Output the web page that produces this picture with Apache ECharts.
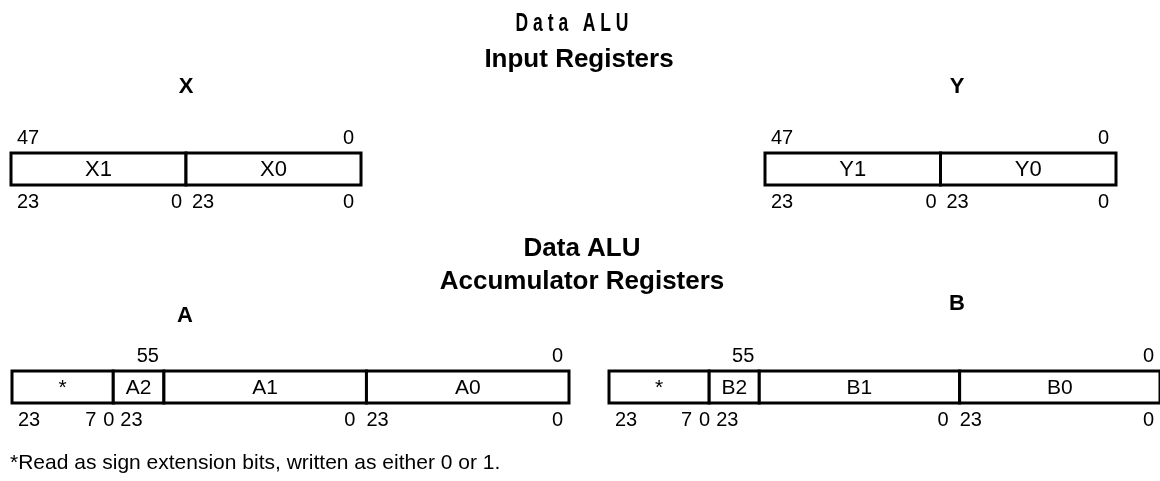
<!DOCTYPE html>
<html>
<head>
<meta charset="utf-8">
<script src="https://cdn.jsdelivr.net/npm/echarts@6/dist/echarts.min.js"></script>
<style>
html,body{margin:0;padding:0;background:#fff;}
#chart{width:1160px;height:481px;}
</style>
</head>
<body>
<div id="chart"></div>
<script>
// ---- data ----
const inputRegisters = ['X', 'Y'];
const inputFields = [['X1', 'X0'], ['Y1', 'Y0']];
const inputFieldSpan = [1, 1];
const inputTopBits = ['47', '0'];
const inputBottomBits = ['23', '0', '23', '0'];

const accRegisters = ['A', 'B'];
const accFields = [['*', 'A2', 'A1', 'A0'], ['*', 'B2', 'B1', 'B0']];
const accFieldSpan = [2, 1, 4, 4];
const accTopBits = ['55', '0'];
const accBottomBits = ['23', '7', '0', '23', '0', '23', '0'];

const headingTop = 'D a t a   A L U';
const headingInput = 'Input Registers';
const headingAcc1 = 'Data ALU';
const headingAcc2 = 'Accumulator Registers';
const footnote = '*Read as sign extension bits, written as either 0 or 1.';

// ---- layout (anchors: [axis slot, align, pixel dx]) ----
const inputTopAnchor = [[0, 'left', 6], [2, 'right', -7]];
const inputBottomAnchor = [[0, 'left', 6], [1, 'right', -4], [1, 'left', 6], [2, 'right', -7]];
const accTopAnchor = [[3, 'right', -5], [11, 'right', -6]];
const accBottomAnchor = [[0, 'left', 6], [2, 'right', -17], [2, 'right', 1], [2, 'left', 7], [7, 'right', -11], [7, 'left', 0], [11, 'right', -6]];

const FONT = '"Liberation Sans", Arial, sans-serif';
const gridDefs = [
  {left: 11, top: 153, width: 350, height: 32},
  {left: 765, top: 153, width: 351, height: 32},
  {left: 12, top: 371, width: 557, height: 32},
  {left: 609, top: 371, width: 557, height: 32}
];

function bounds(span) {
  const b = [0];
  span.forEach(s => b.push(b[b.length - 1] + s));
  return b;
}

const grids = [], xAxes = [], yAxes = [], series = [];

function addRegister(gi, fields, span, topBits, topAnchor, botBits, botAnchor, labelSize) {
  const b = bounds(span);
  const total = b[b.length - 1];
  grids.push(Object.assign({containLabel: false}, gridDefs[gi]));
  xAxes.push({type: 'value', gridIndex: gi, min: 0, max: total, show: false});
  yAxes.push({type: 'value', gridIndex: gi, min: 0, max: 1, show: false});
  // fields (boxes)
  series.push({
    type: 'custom', xAxisIndex: gi, yAxisIndex: gi, clip: false, silent: true,
    data: fields.map((f, k) => [b[k], b[k + 1]]),
    renderItem: function (params, api) {
      const p0 = api.coord([api.value(0), 1]);
      const p1 = api.coord([api.value(1), 0]);
      return {
        type: 'group',
        children: [
          {type: 'rect', shape: {x: p0[0], y: p0[1], width: p1[0] - p0[0], height: p1[1] - p0[1]},
           style: {fill: '#fff', stroke: '#000', lineWidth: 3}},
          {type: 'text', x: (p0[0] + p1[0]) / 2, y: (p0[1] + p1[1]) / 2 + 1,
           style: {text: fields[params.dataIndex], align: 'center', verticalAlign: 'middle',
                   font: labelSize + 'px ' + FONT, fill: '#000'}}
        ]
      };
    }
  });
  // bit labels
  const lbl = [];
  topBits.forEach((t, k) => lbl.push({t: t, a: topAnchor[k], row: 1}));
  botBits.forEach((t, k) => lbl.push({t: t, a: botAnchor[k], row: 0}));
  series.push({
    type: 'custom', xAxisIndex: gi, yAxisIndex: gi, clip: false, silent: true,
    data: lbl.map(l => [l.a[0], l.row]),
    renderItem: function (params, api) {
      const l = lbl[params.dataIndex];
      const p = api.coord([api.value(0), api.value(1)]);
      const y = l.row === 1 ? p[1] - 15 : p[1] + 17;
      return {type: 'text', x: p[0] + l.a[2], y: y,
              style: {text: l.t, align: l.a[1], verticalAlign: 'middle',
                      font: '20px ' + FONT, fill: '#000'}};
    }
  });
}

addRegister(0, inputFields[0], inputFieldSpan, inputTopBits, inputTopAnchor, inputBottomBits, inputBottomAnchor, 22);
addRegister(1, inputFields[1], inputFieldSpan, inputTopBits, inputTopAnchor, inputBottomBits, inputBottomAnchor, 22);
addRegister(2, accFields[0], accFieldSpan, accTopBits, accTopAnchor, accBottomBits, accBottomAnchor, 21);
addRegister(3, accFields[1], accFieldSpan, accTopBits, accTopAnchor, accBottomBits, accBottomAnchor, 21);

function txt(x, y, text, font, extra) {
  return Object.assign({type: 'text', x: x, y: y, silent: true,
    style: {text: text, font: font, fill: '#000', align: 'center', verticalAlign: 'middle'}}, extra || {});
}

const graphic = [
  txt(572, 24, headingTop, 'bold 25px ' + FONT, {scaleX: 0.7, originX: 0, originY: 0}),
  txt(579, 60, headingInput, 'bold 26px ' + FONT),
  txt(186, 87, inputRegisters[0], 'bold 22px ' + FONT),
  txt(957, 87, inputRegisters[1], 'bold 22px ' + FONT),
  txt(582, 249, headingAcc1, 'bold 26px ' + FONT),
  txt(582, 282, headingAcc2, 'bold 26px ' + FONT),
  txt(185, 316, accRegisters[0], 'bold 22px ' + FONT),
  txt(957, 304, accRegisters[1], 'bold 22px ' + FONT),
  {type: 'text', x: 10, y: 463, silent: true,
   style: {text: footnote, font: '21px ' + FONT, fill: '#000', align: 'left', verticalAlign: 'middle'}}
];

const chart = echarts.init(document.getElementById('chart'));
chart.setOption({
  animation: false,
  backgroundColor: '#fff',
  grid: grids,
  xAxis: xAxes,
  yAxis: yAxes,
  series: series,
  graphic: graphic
});
</script>
</body>
</html>
